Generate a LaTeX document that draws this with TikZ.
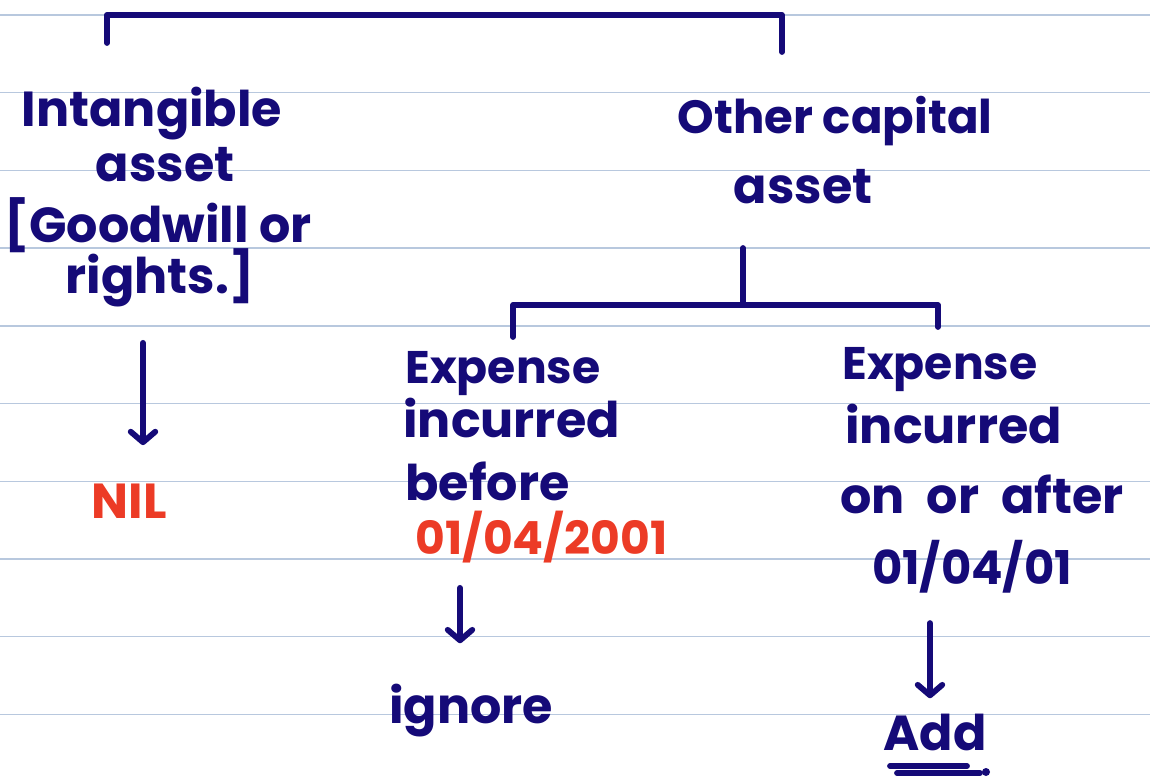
\documentclass[tikz,border=0pt]{standalone}
\usepackage{fontspec}
\setmainfont{Poppins}
\usetikzlibrary{arrows.meta}
\definecolor{ink}{HTML}{150A78}
\definecolor{redink}{HTML}{EC3B26}
\definecolor{ruling}{HTML}{B8C8DE}

\begin{document}
\begin{tikzpicture}[x=0.02cm, y=-0.02cm,
    pen/.style={draw=ink, line width=3.3pt, line cap=round, line join=round},
    hand/.style={text=ink, inner sep=0pt, font=\fontsize{28}{32}\selectfont\bfseries},
    handsmall/.style={hand, font=\fontsize{26}{30}\selectfont\bfseries},
    handred/.style={hand, text=redink},
    arr/.style={pen, -{Straight Barb[round, length=6pt, width=14pt]}}]
    \useasboundingbox (0, 0) rectangle (1150, 777);
    % ruled paper
    \foreach \k in {0,...,9}
        \draw[ruling, line width=0.8pt] (0, 15+77.7*\k) -- (1150, 15+77.7*\k);

    % top split
    \coordinate (topL) at (107, 43);
    \coordinate (topR) at (782, 52);
    \coordinate (top) at (445, 15);
    \draw[pen] (topL) |- (top) -| (topR);

    % left branch
    \node[hand, anchor=base] (intg) at (152, 127) {Intangible};
    \node[hand, anchor=base] (asset1) at (165, 181) {asset};
    \node[hand, anchor=base] (goodw) at (158, 242) {[Goodwill or};
    \node[hand, anchor=base] (rights) at (160, 293) {rights.]};
    \node[handred, anchor=base] (nil) at (129, 518) {NIL};
    \coordinate (armL) at (143, 0);
    \draw[arr, shorten <=0.72cm, shorten >=0.76cm] (rights.south -| armL) -- (nil.north -| armL);

    % right branch
    \node[hand, anchor=base, font=\fontsize{26.5}{30}\selectfont\bfseries] (other) at (835, 133) {Other capital};
    \node[hand, anchor=base] (asset2) at (803, 203) {asset};
    \coordinate (stem) at (743, 248);
    \coordinate (split) at (743, 305);
    \coordinate (legL) at (513, 337);
    \coordinate (legR) at (938, 327);
    \draw[pen] (stem) -- (split);
    \draw[pen] (legL) |- (split) -| (legR);

    % before 01/04/2001
    \node[handsmall, anchor=base west] (expA) at (405, 383) {Expense};
    \node[hand, anchor=base west] (incA) at (403, 437) {incurred};
    \node[hand, anchor=base west] (befA) at (405, 500) {before};
    \node[handsmall, text=redink, anchor=base west] (dateA) at (415, 554) {01/04/2001};
    \node[hand, anchor=base] (ign) at (471, 723) {ignore};
    \coordinate (armM) at (460, 0);
    \draw[arr, shorten <=0.5cm, shorten >=0.8cm] (dateA.south -| armM) -- (ign.north -| armM);

    % on or after 01/04/01
    \node[handsmall, anchor=base west] (expB) at (842, 379) {Expense};
    \node[hand, anchor=base west] (incB) at (845, 443) {incurred};
    \node[hand, anchor=base west] (aftB) at (840, 513) {on\hspace{0.45em}or\hspace{0.45em}after};
    \node[hand, anchor=base, font=\fontsize{26.5}{30}\selectfont\bfseries] (dateB) at (972, 584) {01/04/01};
    \node[hand, anchor=base] (add) at (935, 750) {Add};
    \coordinate (armR) at (930, 0);
    \draw[arr, shorten <=0.6cm, shorten >=0.3cm] (dateB.south -| armR) -- (add.north -| armR);
    \draw[pen] (890, 766) -- (967, 766);
    \draw[pen] (897, 773) -- (980, 773);
    \fill[ink] (986, 772) circle (4);
\end{tikzpicture}
\end{document}
